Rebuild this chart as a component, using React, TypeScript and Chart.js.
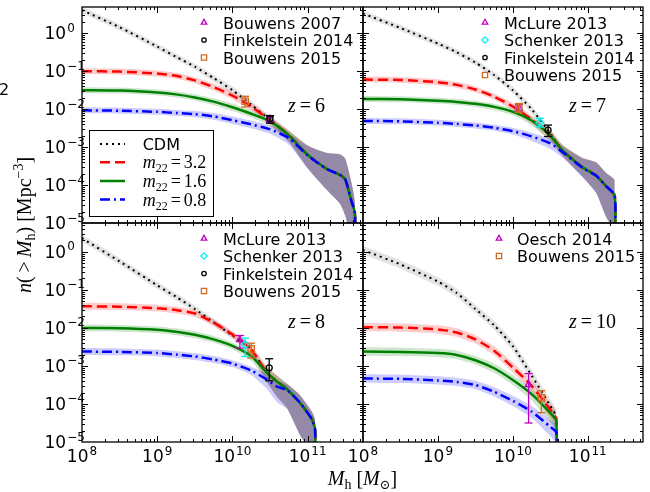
import React, { useEffect, useRef } from 'react';
import { Chart, registerables } from 'chart.js';
import { drawPoint } from 'chart.js/helpers';

Chart.register(...registerables);

// Cumulative halo number density, log10 n(>M) [Mpc^-3] against log10 M_h [M_sun].
// ---------- z = 6 ----------
const logMassZ6 = [8.0, 8.5, 9.0, 9.25, 9.5, 9.75, 10.0, 10.25, 10.5, 10.75, 11.0, 11.25, 11.43, 11.5, 11.58, 11.63, 11.63];
const cdmZ6 = [0.61, 0.16, -0.35, -0.62, -0.88, -1.18, -1.5, -1.88, -2.28, -2.68, -3.2, -3.57, -3.73, -3.85, -4.4, -4.75, -6];
const m32Z6 = [-1.0, -1.01, -1.06, -1.12, -1.24, -1.42, -1.64, -1.93, -2.29, -2.68, -3.2, -3.57, -3.73, -3.85, -4.4, -4.75, -6];
const m16Z6 = [-1.5, -1.51, -1.56, -1.61, -1.69, -1.8, -1.95, -2.12, -2.32, -2.69, -3.2, -3.57, -3.73, -3.85, -4.4, -4.75, -6];
const m08Z6 = [-2.03, -2.04, -2.07, -2.1, -2.13, -2.19, -2.29, -2.4, -2.53, -2.76, -3.22, -3.57, -3.73, -3.85, -4.4, -4.75, -6];
const bandUpZ6 = [0.08, 0.08, 0.08, 0.08, 0.08, 0.09, 0.1, 0.1, 0.1, 0.12, 0.25, 0.42, 0.54, 0.55, 0.5, 0.3, 0.3];
const bandDnZ6 = [0.08, 0.08, 0.08, 0.08, 0.08, 0.09, 0.1, 0.1, 0.12, 0.18, 0.35, 0.55, 0.76, 0.95, 1.0, 1.0, 1.0];
const obsSurveyZ6 = ['Bouwens 2007', 'Finkelstein 2014', 'Bouwens 2015'];
const obsLogMassZ6 = [10.5, 10.5, 10.17];
const obsLogNZ6 = [-2.26, -2.25, -1.79];
const obsLowZ6 = [-2.35, -2.37, -1.94];
const obsHighZ6 = [-2.19, -2.17, -1.66];

// ---------- z = 7 ----------
const logMassZ7 = [8.0, 8.5, 9.0, 9.25, 9.5, 9.75, 10.0, 10.25, 10.5, 10.67, 10.93, 11.11, 11.24, 11.36, 11.36];
const cdmZ7 = [0.52, 0.14, -0.27, -0.5, -0.77, -1.1, -1.5, -2.0, -2.64, -3.1, -3.53, -3.75, -4.02, -4.28, -6];
const m32Z7 = [-1.22, -1.23, -1.29, -1.36, -1.48, -1.67, -1.93, -2.27, -2.68, -3.1, -3.53, -3.75, -4.02, -4.28, -6];
const m16Z7 = [-1.73, -1.74, -1.78, -1.81, -1.86, -1.94, -2.07, -2.3, -2.7, -3.1, -3.53, -3.75, -4.02, -4.28, -6];
const m08Z7 = [-2.31, -2.32, -2.36, -2.39, -2.43, -2.49, -2.58, -2.72, -2.9, -3.14, -3.55, -3.75, -4.02, -4.28, -6];
const bandUpZ7 = [0.08, 0.08, 0.08, 0.08, 0.08, 0.08, 0.09, 0.1, 0.12, 0.15, 0.25, 0.35, 0.35, 0.4, 0.4];
const bandDnZ7 = [0.08, 0.08, 0.08, 0.08, 0.08, 0.08, 0.09, 0.12, 0.15, 0.15, 0.25, 0.45, 0.8, 1.0, 1.0];
const obsSurveyZ7 = ['McLure 2013', 'Schenker 2013', 'Finkelstein 2014', 'Bouwens 2015'];
const obsLogMassZ7 = [10.08, 10.36, 10.47, 10.08];
const obsLogNZ7 = [-1.97, -2.35, -2.55, -1.97];
const obsLowZ7 = [-2.06, -2.47, -2.72, -2.09];
const obsHighZ7 = [-1.88, -2.24, -2.42, -1.85];

// ---------- z = 8 ----------
const logMassZ8 = [8.0, 8.5, 9.0, 9.25, 9.5, 9.75, 10.0, 10.25, 10.46, 10.59, 10.73, 10.9, 11.06, 11.1, 11.1];
const cdmZ8 = [0.36, -0.25, -0.88, -1.18, -1.5, -1.85, -2.2, -2.56, -3.18, -3.4, -3.62, -3.97, -4.41, -4.67, -6];
const m32Z8 = [-1.43, -1.44, -1.48, -1.53, -1.62, -1.86, -2.17, -2.57, -3.18, -3.4, -3.62, -3.97, -4.41, -4.67, -6];
const m16Z8 = [-2.0, -2.01, -2.05, -2.1, -2.18, -2.3, -2.47, -2.74, -3.18, -3.4, -3.62, -3.97, -4.41, -4.67, -6];
const m08Z8 = [-2.62, -2.63, -2.66, -2.7, -2.75, -2.83, -2.94, -3.12, -3.36, -3.54, -3.64, -3.97, -4.41, -4.67, -6];
const bandUpZ8 = [0.09, 0.09, 0.09, 0.09, 0.09, 0.09, 0.09, 0.1, 0.15, 0.15, 0.15, 0.2, 0.2, 0.25, 0.25];
const bandDnZ8 = [0.09, 0.09, 0.09, 0.09, 0.09, 0.09, 0.09, 0.12, 0.25, 0.4, 0.5, 0.85, 0.9, 1.0, 1.0];
const obsSurveyZ8 = ['McLure 2013', 'Schenker 2013', 'Finkelstein 2014', 'Bouwens 2015'];
const obsLogMassZ8 = [10.1, 10.17, 10.49, 10.25];
const obsLogNZ8 = [-2.31, -2.44, -3.05, -2.55];
const obsLowZ8 = [-2.53, -2.75, -3.39, -2.79];
const obsHighZ8 = [-2.2, -2.27, -2.81, -2.4];

// ---------- z = 10 ----------
const logMassZ10 = [8.0, 8.5, 9.0, 9.25, 9.5, 9.75, 10.0, 10.25, 10.5, 10.58, 10.58];
const cdmZ10 = [0.05, -0.33, -0.78, -1.08, -1.5, -1.93, -2.48, -3.25, -4.05, -4.35, -6];
const m32Z10 = [-1.98, -1.99, -2.04, -2.12, -2.3, -2.6, -3.04, -3.52, -4.15, -4.4, -6];
const m16Z10 = [-2.62, -2.63, -2.66, -2.71, -2.85, -3.06, -3.37, -3.74, -4.24, -4.45, -6];
const m08Z10 = [-3.33, -3.34, -3.38, -3.42, -3.5, -3.68, -3.92, -4.2, -4.6, -4.75, -6];
const bandUpZ10 = [0.11, 0.11, 0.11, 0.11, 0.11, 0.12, 0.13, 0.15, 0.18, 0.2, 0.2];
const bandDnZ10 = [0.11, 0.11, 0.11, 0.11, 0.11, 0.12, 0.13, 0.16, 0.25, 0.3, 0.3];
const obsSurveyZ10 = ['Oesch 2014', 'Bouwens 2015'];
const obsLogMassZ10 = [10.21, 10.38];
const obsLogNZ10 = [-3.49, -3.84];
const obsLowZ10 = [-4.5, -4.23];
const obsHighZ10 = [-3.2, -3.65];

const xTickExponents = [8, 9, 10, 11];
const yTickExponents = [0, -1, -2, -3, -4, -5];
const modelLabels = ['CDM', '3.2', '1.6', '0.8'];

const W = 650;
const H = 492;
const SANS = '"DejaVu Sans", sans-serif';
const SERIF = '"Liberation Serif", "DejaVu Serif", serif';
const MAGENTA = '#c000c0';
const CYAN = '#00f0f0';
const ORANGE = '#d2691e';

const surveyStyle: Record<string, { shape: string; color: string; radius: number }> = {
  'Bouwens 2007': { shape: 'triangle', color: MAGENTA, radius: 4 },
  'McLure 2013': { shape: 'triangle', color: MAGENTA, radius: 4 },
  'Oesch 2014': { shape: 'triangle', color: MAGENTA, radius: 4 },
  'Schenker 2013': { shape: 'rectRot', color: CYAN, radius: 4 },
  'Finkelstein 2014': { shape: 'circle', color: '#000000', radius: 3 },
  'Bouwens 2015': { shape: 'rect', color: ORANGE, radius: 4.5 },
};

const curveStyles = [
  { color: '#000000', band: 'rgba(0,0,0,0.11)', dash: [2, 4], width: 2 },
  { color: '#ff0000', band: 'rgba(255,0,0,0.2)', dash: [10, 5], width: 2.5 },
  { color: '#008000', band: 'rgba(0,128,0,0.2)', dash: [] as number[], width: 2.5 },
  { color: '#0000ff', band: 'rgba(0,0,255,0.2)', dash: [10, 4, 2, 4], width: 2.5 },
];

interface Box { left: number; top: number; right: number; bottom: number }
interface Panel {
  key: string;
  box: Box;
  yMaxLog: number;
  logMass: number[];
  curves: number[][];
  bandUp: number[];
  bandDn: number[];
  obsSurvey: string[];
  obsLogMass: number[];
  obsLogN: number[];
  obsLow: number[];
  obsHigh: number[];
  z: string;
  xLabels: boolean;
  yLabels: boolean;
  legendMarkerDx: number;
  legendTextDx: number;
  modelLegend: boolean;
  figureText: boolean;
}

const X_MAX_LOG = 11.737;

const panels: Panel[] = [
  {
    key: 'z6', box: { left: 82, top: 7, right: 363, bottom: 223 }, yMaxLog: 0.693,
    logMass: logMassZ6, curves: [cdmZ6, m32Z6, m16Z6, m08Z6], bandUp: bandUpZ6, bandDn: bandDnZ6,
    obsSurvey: obsSurveyZ6, obsLogMass: obsLogMassZ6, obsLogN: obsLogNZ6, obsLow: obsLowZ6, obsHigh: obsHighZ6,
    z: '6', xLabels: false, yLabels: true, legendMarkerDx: 122, legendTextDx: 141, modelLegend: true, figureText: true,
  },
  {
    key: 'z7', box: { left: 363, top: 7, right: 643, bottom: 223 }, yMaxLog: 0.693,
    logMass: logMassZ7, curves: [cdmZ7, m32Z7, m16Z7, m08Z7], bandUp: bandUpZ7, bandDn: bandDnZ7,
    obsSurvey: obsSurveyZ7, obsLogMass: obsLogMassZ7, obsLogN: obsLogNZ7, obsLow: obsLowZ7, obsHigh: obsHighZ7,
    z: '7', xLabels: false, yLabels: false, legendMarkerDx: 122, legendTextDx: 141, modelLegend: false, figureText: false,
  },
  {
    key: 'z8', box: { left: 82, top: 223, right: 363, bottom: 442 }, yMaxLog: 0.76,
    logMass: logMassZ8, curves: [cdmZ8, m32Z8, m16Z8, m08Z8], bandUp: bandUpZ8, bandDn: bandDnZ8,
    obsSurvey: obsSurveyZ8, obsLogMass: obsLogMassZ8, obsLogN: obsLogNZ8, obsLow: obsLowZ8, obsHigh: obsHighZ8,
    z: '8', xLabels: true, yLabels: true, legendMarkerDx: 122, legendTextDx: 141, modelLegend: false, figureText: false,
  },
  {
    key: 'z10', box: { left: 363, top: 223, right: 643, bottom: 442 }, yMaxLog: 0.76,
    logMass: logMassZ10, curves: [cdmZ10, m32Z10, m16Z10, m08Z10], bandUp: bandUpZ10, bandDn: bandDnZ10,
    obsSurvey: obsSurveyZ10, obsLogMass: obsLogMassZ10, obsLogN: obsLogNZ10, obsLow: obsLowZ10, obsHigh: obsHighZ10,
    z: '10', xLabels: true, yLabels: false, legendMarkerDx: 136, legendTextDx: 154, modelLegend: false, figureText: false,
  },
];

type Seg = { t: string; font: string; dy?: number; gap?: number };

function segWidth(ctx: CanvasRenderingContext2D, segs: Seg[]) {
  let w = 0;
  for (const s of segs) {
    ctx.font = s.font;
    w += ctx.measureText(s.t).width + (s.gap || 0);
  }
  return w;
}

function drawSegs(ctx: CanvasRenderingContext2D, segs: Seg[], x: number, y: number) {
  let cx = x;
  for (const s of segs) {
    ctx.font = s.font;
    ctx.fillText(s.t, cx, y + (s.dy || 0));
    cx += ctx.measureText(s.t).width + (s.gap || 0);
  }
}

const TICK_FONT = `17px ${SANS}`;
const SUP_FONT = `12px ${SANS}`;
const MAJOR_TICK = 6;
const MINOR_TICK = 3;

function powLabel(exp: number) {
  return exp < 0 ? '\u2212' + String(-exp) : String(exp);
}

function decorPlugin(p: Panel) {
  return {
    id: 'decor_' + p.key,
    afterDraw(chart: Chart) {
      const ctx = chart.ctx;
      const { left, right, top, bottom } = chart.chartArea;
      const xs = chart.scales.x;
      const ys = chart.scales.y;
      ctx.save();
      ctx.fillStyle = '#000';
      ctx.strokeStyle = '#000';
      ctx.textBaseline = 'alphabetic';
      ctx.textAlign = 'left';

      // inward ticks on all four sides
      ctx.lineWidth = 1;
      for (let e = 8; e <= 11; e++) {
        for (let k = 1; k <= 9; k++) {
          const v = k * Math.pow(10, e);
          if (v <= xs.min || v >= xs.max) continue;
          const px = Math.round(xs.getPixelForValue(v)) + 0.5;
          const len = k === 1 ? MAJOR_TICK : MINOR_TICK;
          ctx.beginPath();
          ctx.moveTo(px, bottom);
          ctx.lineTo(px, bottom - len);
          ctx.moveTo(px, top);
          ctx.lineTo(px, top + len);
          ctx.stroke();
        }
      }
      for (let e = -5; e <= 0; e++) {
        for (let k = 1; k <= 9; k++) {
          const v = k * Math.pow(10, e);
          if (v <= ys.min || v >= ys.max) continue;
          const py = Math.round(ys.getPixelForValue(v)) + 0.5;
          const len = k === 1 ? MAJOR_TICK : MINOR_TICK;
          ctx.beginPath();
          ctx.moveTo(left, py);
          ctx.lineTo(left + len, py);
          ctx.moveTo(right, py);
          ctx.lineTo(right - len, py);
          ctx.stroke();
        }
      }
      // frame
      ctx.lineWidth = 1.3;
      ctx.strokeRect(left, top, right - left, bottom - top);

      // tick labels
      if (p.yLabels) {
        for (const e of yTickExponents) {
          const py = ys.getPixelForValue(Math.pow(10, e));
          ctx.font = TICK_FONT;
          const w10 = ctx.measureText('10').width;
          ctx.fillText('10', 44.5, py + 6);
          ctx.font = SUP_FONT;
          ctx.fillText(powLabel(e), 44.5 + w10 + 1, py - 1.5);
        }
      }
      if (p.xLabels) {
        for (const e of xTickExponents) {
          const px = xs.getPixelForValue(Math.pow(10, e));
          ctx.font = TICK_FONT;
          const w10 = ctx.measureText('10').width;
          ctx.font = SUP_FONT;
          const ws = ctx.measureText(powLabel(e)).width;
          const x0 = px - (w10 + 1 + ws) / 2;
          ctx.font = TICK_FONT;
          ctx.fillText('10', x0, 462);
          ctx.font = SUP_FONT;
          ctx.fillText(powLabel(e), x0 + w10 + 1, 454.5);
        }
      }

      // redshift label
      const zSegs: Seg[] = [
        { t: 'z', font: `italic 20px ${SERIF}`, gap: 4 },
        { t: '=', font: `20px ${SERIF}`, gap: 4 },
        { t: p.z, font: `20px ${SERIF}` },
      ];
      drawSegs(ctx, zSegs, left + 206, top + 105);

      // observational data legend
      p.obsSurvey.forEach((name, i) => {
        const st = surveyStyle[name];
        const cy = top + 15.5 + 17.5 * i;
        ctx.strokeStyle = st.color;
        ctx.fillStyle = 'rgba(0,0,0,0)';
        ctx.lineWidth = 1.3;
        drawPoint(ctx, { pointStyle: st.shape as any, rotation: 0, radius: st.radius - 0.8, borderWidth: 1.3 }, left + p.legendMarkerDx, cy);
        ctx.fillStyle = '#000';
        ctx.font = `16px ${SANS}`;
        ctx.fillText(name, left + p.legendTextDx, cy + 6);
      });

      if (p.modelLegend) {
        const bx = 89.5, by = 130.5, bw = 124, bh = 86;
        ctx.fillStyle = '#fff';
        ctx.fillRect(bx, by, bw, bh);
        ctx.strokeStyle = '#000';
        ctx.lineWidth = 1;
        ctx.strokeRect(bx, by, bw, bh);
        const rows = [144, 162.3, 181, 199.5];
        modelLabels.forEach((lab, i) => {
          const cs = curveStyles[i];
          ctx.save();
          ctx.strokeStyle = cs.color;
          ctx.lineWidth = cs.width;
          ctx.setLineDash(cs.dash);
          ctx.beginPath();
          ctx.moveTo(100, rows[i]);
          ctx.lineTo(125, rows[i]);
          ctx.stroke();
          ctx.restore();
          ctx.fillStyle = '#000';
          if (i === 0) {
            ctx.font = `16px ${SANS}`;
            ctx.fillText(lab, 142.7, rows[i] + 6);
          } else {
            drawSegs(ctx, [
              { t: 'm', font: `italic 18px ${SERIF}` },
              { t: '22', font: `12px ${SERIF}`, dy: 4, gap: 3 },
              { t: '=', font: `18px ${SERIF}`, gap: 3 },
              { t: lab, font: `18px ${SERIF}` },
            ], 142.7, rows[i] + 6);
          }
        });
      }

      if (p.figureText) {
        ctx.fillStyle = '#000';
        // y axis title
        const ySegs: Seg[] = [
          { t: 'n', font: `italic 20px ${SERIF}` },
          { t: '(', font: `20px ${SERIF}`, gap: 4 },
          { t: '>', font: `20px ${SERIF}`, gap: 4 },
          { t: 'M', font: `italic 20px ${SERIF}` },
          { t: 'h', font: `14px ${SERIF}`, dy: 4 },
          { t: ')', font: `20px ${SERIF}`, gap: 5 },
          { t: '[Mpc', font: `20px ${SERIF}` },
          { t: '\u22123', font: `14px ${SERIF}`, dy: -8 },
          { t: ']', font: `20px ${SERIF}` },
        ];
        const yw = segWidth(ctx, ySegs);
        ctx.save();
        ctx.translate(31, 225);
        ctx.rotate(-Math.PI / 2);
        drawSegs(ctx, ySegs, -yw / 2, 0);
        ctx.restore();
        // x axis title
        const xSegs: Seg[] = [
          { t: 'M', font: `italic 20px ${SERIF}` },
          { t: 'h', font: `14px ${SERIF}`, dy: 4, gap: 5 },
          { t: '[', font: `20px ${SERIF}` },
          { t: 'M', font: `italic 20px ${SERIF}` },
          { t: '\u2299', font: `13px ${SERIF}`, dy: 4 },
          { t: ']', font: `20px ${SERIF}` },
        ];
        const xw = segWidth(ctx, xSegs);
        drawSegs(ctx, xSegs, 362.5 - xw / 2, 485);
        // stray figure annotation at the left margin
        ctx.font = `16px ${SANS}`;
        ctx.fillText('2', -1, 95);
      }
      ctx.restore();
    },
  };
}

function buildConfig(p: Panel): any {
  const pts = (vals: number[], off?: number[], sign = 0) =>
    p.logMass.map((m, i) => ({ x: Math.pow(10, m), y: Math.pow(10, vals[i] + (off ? sign * off[i] : 0)) }));
  const datasets: any[] = [];
  // uncertainty bands (drawn below everything)
  p.curves.forEach((vals, k) => {
    const cs = curveStyles[k];
    datasets.push({
      data: pts(vals, p.bandUp, 1), fill: '+1', backgroundColor: cs.band, borderColor: 'rgba(0,0,0,0)',
      borderWidth: 0, pointRadius: 0, tension: 0.2, order: 140 - k * 10, clip: 0,
    });
    datasets.push({
      data: pts(vals, p.bandDn, -1), fill: false, borderColor: 'rgba(0,0,0,0)',
      borderWidth: 0, pointRadius: 0, tension: 0.2, order: 141 - k * 10, clip: 0,
    });
  });
  // model curves
  p.curves.forEach((vals, k) => {
    const cs = curveStyles[k];
    datasets.push({
      data: pts(vals), fill: false, borderColor: cs.color, borderWidth: cs.width, borderDash: cs.dash,
      pointRadius: 0, tension: 0.2, order: 40 - k * 10, clip: 0,
    });
  });
  // observational points with error bars
  p.obsSurvey.forEach((name, i) => {
    const st = surveyStyle[name];
    const x = Math.pow(10, p.obsLogMass[i]);
    datasets.push({
      data: [{ x, y: Math.pow(10, p.obsLow[i]) }, { x, y: Math.pow(10, p.obsHigh[i]) }],
      fill: false, borderColor: st.color, borderWidth: 1.3, pointStyle: 'line', pointRadius: 4,
      pointBorderColor: st.color, pointBackgroundColor: st.color, pointBorderWidth: 1.3,
      order: 8 - 2 * i, clip: 0,
    });
    datasets.push({
      data: [{ x, y: Math.pow(10, p.obsLogN[i]) }], showLine: false, fill: false,
      pointStyle: st.shape, pointRadius: st.radius, pointBorderColor: st.color,
      pointBackgroundColor: 'rgba(0,0,0,0)', pointBorderWidth: 1.3, order: 7 - 2 * i, clip: 0,
    });
  });

  return {
    type: 'line',
    data: { datasets },
    options: {
      responsive: false,
      maintainAspectRatio: false,
      animation: false,
      events: [],
      layout: { padding: { left: p.box.left, top: p.box.top, right: W - p.box.right, bottom: H - p.box.bottom } },
      scales: {
        x: { type: 'logarithmic', min: 1e8, max: Math.pow(10, X_MAX_LOG), bounds: 'data', display: false },
        y: { type: 'logarithmic', min: 1e-5, max: Math.pow(10, p.yMaxLog), bounds: 'data', display: false },
      },
      plugins: { legend: { display: false }, tooltip: { enabled: false } },
    },
    plugins: [decorPlugin(p)],
  };
}

export default function App() {
  const canvases = useRef<(HTMLCanvasElement | null)[]>([]);
  useEffect(() => {
    document.body.style.margin = '0';
    const charts = panels.map((p, i) => new Chart(canvases.current[i] as HTMLCanvasElement, buildConfig(p)));
    return () => charts.forEach((c) => c.destroy());
  }, []);
  return (
    <div style={{ position: 'relative', width: W, height: H, background: '#fff', overflow: 'hidden' }}>
      {panels.map((p, i) => (
        <canvas
          key={p.key}
          ref={(el) => { canvases.current[i] = el; }}
          width={W}
          height={H}
          style={{ position: 'absolute', left: 0, top: 0 }}
        />
      ))}
    </div>
  );
}
